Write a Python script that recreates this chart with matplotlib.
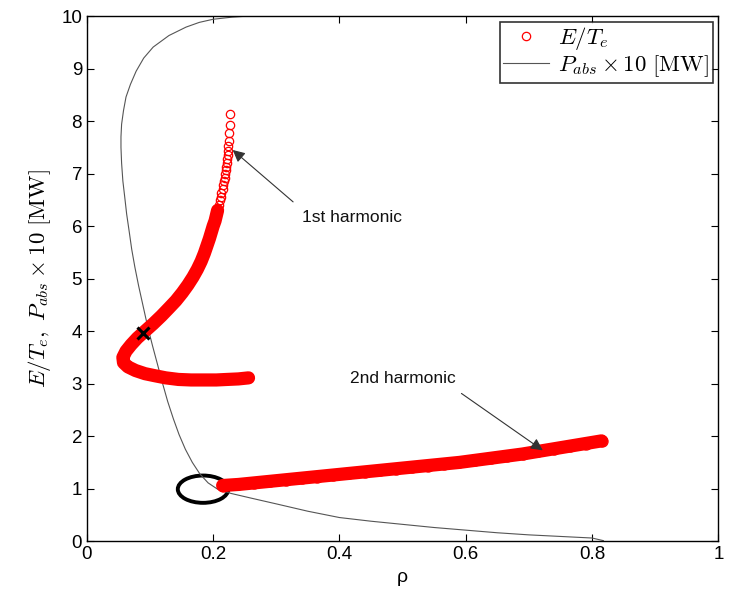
import matplotlib.pyplot as plt
from matplotlib.patches import Ellipse

plt.rcParams['font.family'] = ['Liberation Sans', 'DejaVu Sans']
plt.rcParams['mathtext.fontset'] = 'cm'

# P_abs x 10 curve
rho_pabs = [0.255, 0.23, 0.2, 0.178, 0.157, 0.13, 0.105, 0.09, 0.078, 0.069, 0.062,
            0.058, 0.055, 0.054, 0.054, 0.055, 0.057, 0.060, 0.063, 0.067, 0.071,
            0.076, 0.082, 0.089, 0.096, 0.104, 0.112, 0.120, 0.128, 0.137, 0.146,
            0.156, 0.167, 0.179, 0.192, 0.207, 0.228, 0.26, 0.3, 0.35, 0.4, 0.45,
            0.5, 0.55, 0.6, 0.65, 0.7, 0.75, 0.8, 0.818]
pabs10 = [10.0, 9.98, 9.94, 9.88, 9.79, 9.63, 9.41, 9.2, 8.95, 8.7, 8.46,
          8.2, 7.94, 7.7, 7.5, 7.2, 6.86, 6.55, 6.23, 5.9, 5.56,
          5.22, 4.86, 4.48, 4.1, 3.72, 3.36, 3.0, 2.66, 2.33, 2.03,
          1.75, 1.5, 1.28, 1.11, 0.99, 0.91, 0.82, 0.71, 0.57, 0.45, 0.38,
          0.32, 0.26, 0.21, 0.16, 0.12, 0.09, 0.06, 0.01]

# E/Te, 1st harmonic
rho_h1 = [0.226, 0.226, 0.225, 0.225, 0.224, 0.224, 0.223, 0.222, 0.222, 0.221,
          0.220, 0.219, 0.218, 0.217, 0.216, 0.215, 0.213, 0.212, 0.211, 0.209,
          0.207, 0.205, 0.203, 0.200, 0.197, 0.194, 0.190, 0.186, 0.181, 0.175,
          0.168, 0.160, 0.151, 0.141, 0.130, 0.118, 0.105, 0.092, 0.080, 0.070,
          0.062, 0.057, 0.058, 0.065, 0.077, 0.092, 0.108, 0.125, 0.145, 0.165,
          0.185, 0.205, 0.222, 0.240, 0.256]
ete_h1 = [8.13, 7.92, 7.77, 7.63, 7.52, 7.43, 7.35, 7.27, 7.20, 7.13,
          7.06, 6.99, 6.92, 6.85, 6.78, 6.71, 6.63, 6.56, 6.49, 6.40,
          6.30, 6.20, 6.10, 6.00, 5.88, 5.76, 5.62, 5.48, 5.33, 5.18,
          5.03, 4.88, 4.73, 4.58, 4.44, 4.29, 4.14, 4.00, 3.87, 3.74,
          3.62, 3.50, 3.40, 3.32, 3.25, 3.19, 3.15, 3.11, 3.08, 3.07,
          3.07, 3.07, 3.08, 3.09, 3.11]

# E/Te, 2nd harmonic
rho_h2 = [0.215, 0.24, 0.265, 0.29, 0.315, 0.34, 0.365, 0.39, 0.415, 0.44, 0.465,
          0.49, 0.515, 0.54, 0.565, 0.59, 0.615, 0.64, 0.665, 0.69, 0.715, 0.74,
          0.765, 0.79, 0.815]
ete_h2 = [1.06, 1.08, 1.11, 1.14, 1.17, 1.20, 1.23, 1.26, 1.29, 1.32, 1.35,
          1.38, 1.41, 1.44, 1.47, 1.50, 1.54, 1.58, 1.62, 1.66, 1.71, 1.76,
          1.81, 1.86, 1.91]

cross = (0.089, 3.96)
circle_center = (0.184, 0.99)

fig = plt.figure(figsize=(7.3, 5.96), dpi=100)
ax = fig.add_axes([0.119, 0.092, 0.865, 0.881])

line_p, = ax.plot(rho_pabs, pabs10, '-', color='#555555', lw=0.8)

# dense part of the 1st harmonic looks solid
n_solid = 20
ax.plot(rho_h1[n_solid:], ete_h1[n_solid:], '-', color='red', lw=9.5, solid_capstyle='round',
        solid_joinstyle='round')
mark_e, = ax.plot(rho_h1, ete_h1, 'o', mfc='none', mec='red', ms=6, mew=0.9)
ax.plot(rho_h2, ete_h2, '-', color='red', lw=9.5, solid_capstyle='round')
ax.plot(rho_h2, ete_h2, 'o', mfc='none', mec='red', ms=8, mew=0.9)

ax.plot(*cross, 'x', color='black', ms=8, mew=2.2)
ax.add_patch(Ellipse(circle_center, 0.08, 0.52, fill=False, ec='black', lw=2.8))

arrow_style = dict(arrowstyle='-|>', color='#333333', lw=0.8, shrinkA=6, shrinkB=0,
                   mutation_scale=18)
ax.annotate('1st harmonic', xy=(0.231, 7.45), xytext=(0.341, 6.17), fontsize=12.5,
            va='center', ha='left', color='#111111',
            arrowprops=dict(arrow_style, relpos=(0.0, 1.0)))
ax.annotate('2nd harmonic', xy=(0.722, 1.73), xytext=(0.417, 3.1), fontsize=12.5,
            va='center', ha='left', color='#111111',
            arrowprops=dict(arrow_style, relpos=(0.95, 0.0)))

ax.set_xlim(0, 1)
ax.set_ylim(0, 10)
ax.set_xticks([0, 0.2, 0.4, 0.6, 0.8, 1])
ax.set_xticklabels(['0', '0.2', '0.4', '0.6', '0.8', '1'])
ax.set_yticks(range(0, 11))
ax.tick_params(direction='in', top=True, right=True, labelsize=13.5, length=5, width=0.8)
for s in ax.spines.values():
    s.set_linewidth(1.0)

ax.set_xlabel('ρ', fontsize=14)
ax.set_ylabel(r'$E/T_e,\ P_{abs}\times 10\ [\mathrm{MW}]$', fontsize=16.5, labelpad=6)

leg = ax.legend([mark_e, line_p], [r'$E/T_e$', r'$P_{abs}\times 10\ [\mathrm{MW}]$'],
                loc='upper right', fontsize=16.5, frameon=True, fancybox=False,
                borderaxespad=0.25, handlelength=2.0, borderpad=0.15, labelspacing=0.05,
                handletextpad=0.4)
leg.get_frame().set_edgecolor('black')
leg.get_frame().set_linewidth(1.2)

fig.savefig('out.png', dpi=100)
